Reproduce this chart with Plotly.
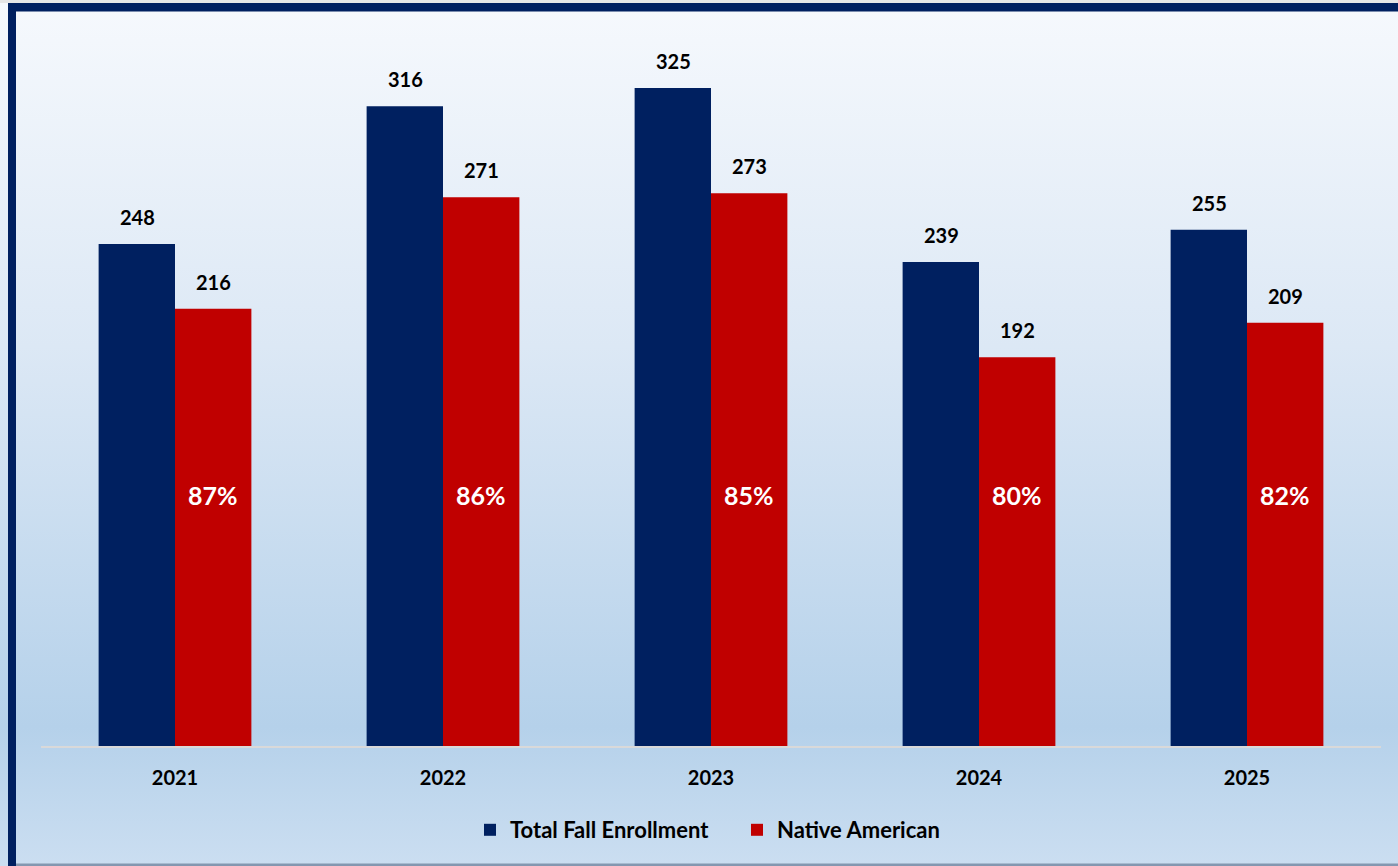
import base64
import plotly.graph_objects as go

# ---- data ----
years = ["2021", "2022", "2023", "2024", "2025"]
total_fall = [248, 316, 325, 239, 255]
native_american = [216, 271, 273, 192, 209]
pct_labels = ["87%", "86%", "85%", "80%", "82%"]
series_names = ["Total Fall Enrollment", "Native American"]

NAVY = "#002060"
RED = "#C00000"
FONT = "Lato"

W, H = 1398, 866
ML, MR, MT, MB = 41, 17, 20, 120
PW, PH = W - ML - MR, H - MT - MB


def px(x):
    return (x - ML) / PW


def py(y):
    return (H - MB - y) / PH


fig = go.Figure()
fig.add_trace(go.Bar(x=years, y=total_fall, name=series_names[0],
                     marker=dict(color=NAVY, line=dict(width=0))))
fig.add_trace(go.Bar(x=years, y=native_american, name=series_names[1],
                     marker=dict(color=RED, line=dict(width=0))))

annotations = []
for i, (tv, nv, pl) in enumerate(zip(total_fall, native_american, pct_labels)):
    annotations.append(dict(x=i, y=tv, xref="x", yref="y", text=str(tv), showarrow=False,
                            xshift=-38, yshift=27, yanchor="middle",
                            font=dict(family=FONT, size=20, color="black", weight=700)))
    annotations.append(dict(x=i, y=nv, xref="x", yref="y", text=str(nv), showarrow=False,
                            xshift=38, yshift=27, yanchor="middle",
                            font=dict(family=FONT, size=20, color="black", weight=700)))
    annotations.append(dict(x=i, y=124, xref="x", yref="y", text=pl, showarrow=False,
                            xshift=38, yanchor="middle",
                            font=dict(family=FONT, size=25, color="white", weight=700)))

svg = ("<svg xmlns='http://www.w3.org/2000/svg' width='1398' height='866' viewBox='0 0 1398 866' "
       "preserveAspectRatio='none'><defs><linearGradient id='g' x1='0' y1='0' x2='0' y2='1'>"
       "<stop offset='0' stop-color='#f6f9fd'/><stop offset='0.4' stop-color='#dce8f5'/>"
       "<stop offset='0.84' stop-color='#b5d1ea'/><stop offset='1' stop-color='#cbdef1'/>"
       "</linearGradient></defs><rect width='1398' height='866' fill='url(#g)'/></svg>")
src = "data:image/svg+xml;base64," + base64.b64encode(svg.encode()).decode()

shapes = [
    dict(type="rect", xref="paper", yref="paper", x0=px(0), x1=px(W + 10), y0=py(-10), y1=py(3),
         fillcolor="#e6e6e6", line=dict(width=0), layer="above"),
    dict(type="rect", xref="paper", yref="paper", x0=px(8), x1=px(W + 10), y0=py(3), y1=py(11.5),
         fillcolor=NAVY, line=dict(width=0), layer="above"),
    dict(type="rect", xref="paper", yref="paper", x0=px(8), x1=px(16), y0=py(3), y1=py(H + 10),
         fillcolor=NAVY, line=dict(width=0), layer="above"),
    dict(type="rect", xref="paper", yref="paper", x0=px(16), x1=px(W + 10), y0=py(863.5), y1=py(H + 10),
         fillcolor="#8497b0", line=dict(width=0), layer="above"),
]

fig.update_layout(
    width=W, height=H,
    margin=dict(l=ML, r=MR, t=MT, b=MB, pad=0),
    paper_bgcolor="#e6e6e6",
    plot_bgcolor="rgba(0,0,0,0)",
    barmode="group", bargap=0.43, bargroupgap=0,
    showlegend=True,
    legend=dict(orientation="h", x=px(470), xanchor="left", y=py(830), yanchor="middle",
                bgcolor="rgba(0,0,0,0)", font=dict(family=FONT, size=22, color="black", weight=700),
                itemclick=False, traceorder="normal", itemwidth=30, entrywidth=222),
    xaxis=dict(type="category", showline=True, linecolor="#d9d9d9", linewidth=2,
               showgrid=False, zeroline=False, ticks="", ticklabelstandoff=13,
               tickfont=dict(family=FONT, size=20, color="black", weight=700),
               range=[-0.5, 4.5]),
    yaxis=dict(visible=False, range=[0, PH / 2.0246], showgrid=False, zeroline=False),
    annotations=annotations,
    shapes=shapes,
    images=[dict(source=src, xref="paper", yref="paper", x=px(0), y=py(0),
                 sizex=W / PW, sizey=H / PH, xanchor="left", yanchor="top",
                 sizing="stretch", layer="below")],
)

fig.write_html("out.html", config={"displayModeBar": False},
               post_script="document.body.style.margin='0';document.body.style.overflow='hidden';")
